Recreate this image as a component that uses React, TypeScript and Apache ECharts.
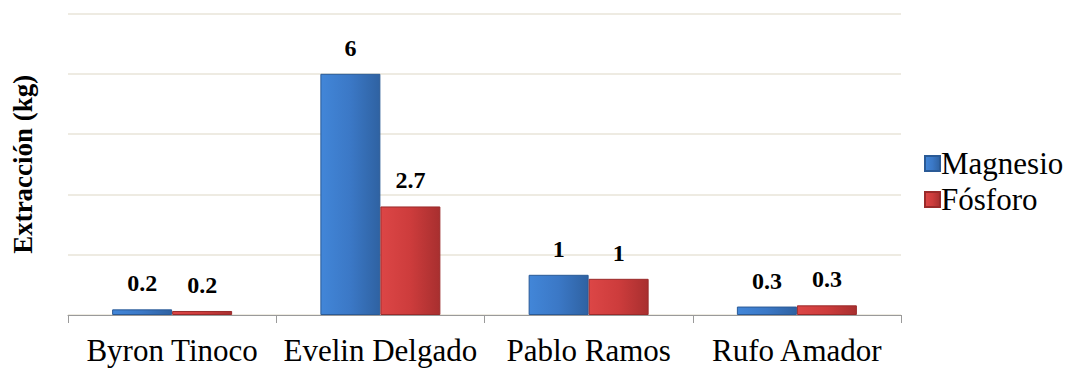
import React, { useEffect, useRef } from "react";
import * as echarts from "echarts";

const categories = ["Byron Tinoco", "Evelin Delgado", "Pablo Ramos", "Rufo Amador"];
const magnesio = [0.14, 6, 1.0, 0.21];
const fosforo = [0.1, 2.7, 0.9, 0.24];
const magnesioLabels = ["0.2", "6", "1", "0.3"];
const fosforoLabels = ["0.2", "2.7", "1", "0.3"];
const yMin = 0;
const yMax = 7.5;
const yInterval = 1.5;

const FONT = "Liberation Serif";

export default function App() {
  const ref = useRef<HTMLDivElement>(null);
  useEffect(() => {
    if (!ref.current) return;
    const chart = echarts.init(ref.current, null, { renderer: "svg" });
    const blue = new echarts.graphic.LinearGradient(0, 0, 1, 0, [
      { offset: 0, color: "#4286d8" },
      { offset: 0.5, color: "#3b78c6" },
      { offset: 1, color: "#2f62a2" },
    ]);
    const red = new echarts.graphic.LinearGradient(0, 0, 1, 0, [
      { offset: 0, color: "#dc4646" },
      { offset: 0.5, color: "#cd3c3c" },
      { offset: 1, color: "#a82f2f" },
    ]);
    const labelStyle = {
      show: true,
      position: "top",
      distance: 14,
      fontFamily: FONT,
      fontWeight: "bold",
      fontSize: 24,
      color: "#000",
    };
    chart.setOption({
      animation: false,
      textStyle: { fontFamily: FONT },
      grid: {
        left: 68,
        right: 172,
        top: 13.5,
        bottom: 54,
        containLabel: false,
        outerBoundsMode: "none",
      },
      legend: {
        orient: "vertical",
        left: 919,
        top: 143,
        itemWidth: 15,
        itemHeight: 15,
        itemGap: 5,
        icon: "rect",
        textStyle: { fontFamily: FONT, fontSize: 31, color: "#000", lineHeight: 31, padding: [0, 0, 0, -4] },
        data: ["Magnesio", "Fósforo"],
      },
      xAxis: {
        type: "category",
        data: categories,
        axisLine: { show: true, lineStyle: { color: "#9a9a9a", width: 1 } },
        axisTick: { show: true, length: 8, lineStyle: { color: "#9a9a9a" } },
        axisLabel: { fontFamily: FONT, fontSize: 31, color: "#000", margin: 20, interval: 0 },
      },
      yAxis: {
        type: "value",
        min: yMin,
        max: yMax,
        interval: yInterval,
        name: "Extracción (kg)",
        nameLocation: "middle",
        nameGap: 32,
        nameRotate: 90,
        nameTextStyle: { fontFamily: FONT, fontWeight: "bold", fontSize: 27, color: "#000" },
        axisLine: { show: false },
        axisTick: { show: false },
        axisLabel: { show: false },
        splitLine: { show: true, lineStyle: { color: "#e9e5d9", width: 1.5 } },
      },
      series: [
        {
          name: "Magnesio",
          type: "bar",
          data: magnesio,
          barWidth: 60,
          barGap: "0%",
          itemStyle: { color: blue, borderColor: "#2a5a96", borderWidth: 1 },
          label: { ...labelStyle, formatter: (p: any) => magnesioLabels[p.dataIndex] },
        },
        {
          name: "Fósforo",
          type: "bar",
          data: fosforo,
          barWidth: 60,
          barGap: "0%",
          itemStyle: { color: red, borderColor: "#9a2a2a", borderWidth: 1 },
          label: { ...labelStyle, formatter: (p: any) => fosforoLabels[p.dataIndex] },
        },
      ],
    });
    return () => chart.dispose();
  }, []);
  return (
    <div
      ref={ref}
      style={{ position: "fixed", left: 0, top: 0, width: 1073, height: 369, background: "#fff" }}
    />
  );
}
